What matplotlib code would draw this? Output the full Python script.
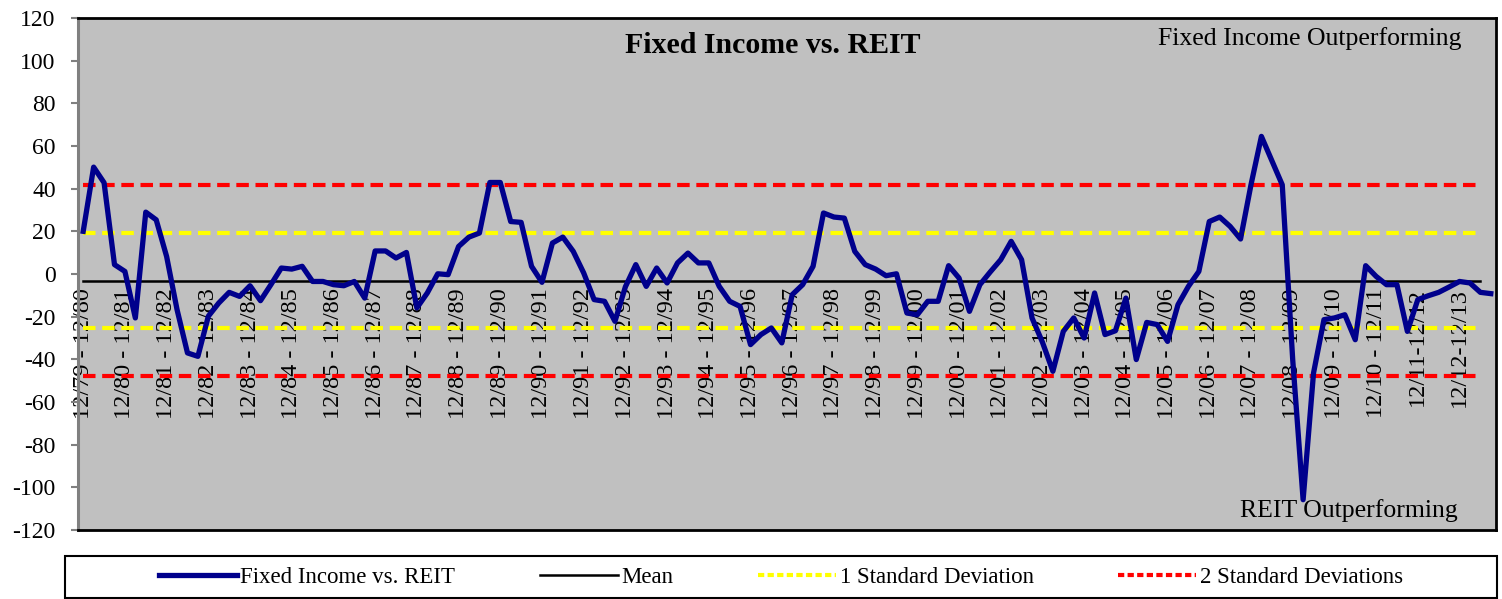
import matplotlib
matplotlib.use("Agg")
import matplotlib.pyplot as plt
from matplotlib.lines import Line2D
from matplotlib.patches import Rectangle

plt.rcParams['font.family'] = ['Liberation Serif', 'DejaVu Serif']
plt.rcParams['axes.unicode_minus'] = False

# rolling one-year difference, quarterly points (12/80 ... 9/14)
fi_vs_reit = [
    20.0, 50.1, 42.8, 4.4, 1.2, -20.6, 29.0, 25.4, 8.2, -16.7,
    -37.0, -38.6, -19.8, -13.6, -8.6, -10.5, -5.5, -12.5, -5.0, 2.8,
    2.3, 3.6, -3.5, -3.5, -5.0, -5.5, -3.5, -11.3, 10.8, 10.8,
    7.5, 10.1, -15.9, -8.9, 0.1, -0.3, 12.9, 17.3, 19.2, 42.9,
    42.9, 24.6, 24.2, 3.6, -3.9, 14.5, 17.3, 10.6, 0.5, -12.0,
    -12.8, -22.2, -6.0, 4.4, -5.8, 2.8, -4.2, 5.2, 9.8, 5.2,
    5.2, -5.8, -12.8, -15.2, -33.1, -28.4, -25.3, -32.3, -9.7, -5.0,
    3.6, 28.6, 26.7, 26.2, 10.6, 4.4, 2.3, -0.8, 0.1, -18.3,
    -19.1, -12.8, -12.8, 3.9, -1.9, -17.5, -5.0, 1.0, 6.7, 15.3,
    6.7, -20.6, -32.0, -45.6, -26.9, -20.6, -30.0, -8.9, -28.4, -26.6,
    -11.3, -40.1, -22.7, -23.7, -31.6, -14.4, -5.8, 1.2, 24.6, 26.7,
    22.3, 16.4, 41.8, 64.5, 53.2, 41.8, -40.0, -105.8, -46.4, -21.4,
    -20.6, -19.1, -30.8, 3.9, -1.1, -5.0, -5.0, -26.9, -12.0, -10.2,
    -8.6, -6.1, -3.5, -4.2, -8.6, -9.2,
]

mean_val = -3.1
sd1_up, sd1_down = 19.2, -25.4
sd2_up, sd2_down = 41.5, -47.7
n_band = 135  # reference lines stop one quarter before the last point

period_labels = [
    "12/79 - 12/80", "12/80 - 12/81", "12/81 - 12/82", "12/82 - 12/83",
    "12/83 - 12/84", "12/84 - 12/85", "12/85 - 12/86", "12/86 - 12/87",
    "12/87 - 12/88", "12/88 - 12/89", "12/89 - 12/90", "12/90 - 12/91",
    "12/91 - 12/92", "12/92 - 12/93", "12/93 - 12/94", "12/94 - 12/95",
    "12/95 - 12/96", "12/96 - 12/97", "12/97 - 12/98", "12/98 - 12/99",
    "12/99 - 12/00", "12/00 - 12/01", "12/01 - 12/02", "12/02 - 12/03",
    "12/03 - 12/04", "12/04 - 12/05", "12/05 - 12/06", "12/06 - 12/07",
    "12/07 - 12/08", "12/08 - 12/09", "12/09 - 12/10", "12/10 - 12/11",
    "12/11-12/12", "12/12-12/13",
]
label_every = 4

x = list(range(len(fi_vs_reit)))
xb = list(range(n_band))

fig = plt.figure(figsize=(15.02, 5.99), dpi=100)
ax = fig.add_axes([78 / 1502, 1 - 530 / 599, 1418 / 1502, 512 / 599])
ax.set_facecolor('#C0C0C0')

navy = '#00008C'
ax.plot(xb, [mean_val] * n_band, color='black', lw=1.8, zorder=3)
for v in (sd1_up, sd1_down):
    ax.plot(xb, [v] * n_band, color='#FFFF00', lw=3, dashes=(3, 1.6), zorder=3)
for v in (sd2_up, sd2_down):
    ax.plot(xb, [v] * n_band, color='#FF0000', lw=3, dashes=(3, 1.6), zorder=3)
ax.plot(x, fi_vs_reit, color=navy, lw=3.8, solid_joinstyle='round', zorder=4)

ax.set_xlim(-0.5, len(fi_vs_reit) - 0.5)
ax.set_ylim(-120, 120)
ax.set_yticks(range(-120, 121, 20))
ax.tick_params(axis='y', length=5, width=1.5, color='#808080', pad=11, labelsize=17)
ax.set_xticks([])
for s in ('top', 'right', 'bottom'):
    ax.spines[s].set_color('black')
    ax.spines[s].set_linewidth(2)
ax.spines['left'].set_color('#808080')
ax.spines['left'].set_linewidth(2.2)

# category labels sit next to the zero line, as in the spreadsheet chart
sec = ax.secondary_xaxis(0.5)
sec.set_alignment('bottom')
sec.set_xticks(x[::label_every], labels=period_labels)
sec.tick_params(axis='x', length=0, pad=10, labelsize=17.5, labelrotation=90)
sec.spines['bottom'].set_visible(False)
sec.spines['top'].set_visible(False)
sec.set_zorder(1)

ax.text(0.49, 0.947, "Fixed Income vs. REIT", transform=ax.transAxes,
        ha='center', va='center', fontsize=21.5, fontweight='bold')
ax.text(0.976, 0.96, "Fixed Income Outperforming", transform=ax.transAxes,
        ha='right', va='center', fontsize=18.5)
ax.text(0.973, 0.039, "REIT Outperforming", transform=ax.transAxes,
        ha='right', va='center', fontsize=18.5)

# legend box under the chart
fig.patches.append(Rectangle((65 / 1502, 0.002), 1432 / 1502, 42 / 599,
                             transform=fig.transFigure, fill=False,
                             edgecolor='black', lw=1.5))
handles = [
    Line2D([], [], color=navy, lw=3.8),
    Line2D([], [], color='black', lw=1.8),
    Line2D([], [], color='#FFFF00', lw=3, dashes=(1.5, 0.8)),
    Line2D([], [], color='#FF0000', lw=3, dashes=(1.5, 0.8)),
]
names = ["Fixed Income vs. REIT", "Mean", "1 Standard Deviation", "2 Standard Deviations"]
fig.legend(handles, names, loc='center', bbox_to_anchor=(781 / 1502, 1 - 577 / 599),
           ncol=4, frameon=False, fontsize=16.5, handlelength=3.4,
           handletextpad=0.15, columnspacing=3.7)

fig.savefig("out.png", dpi=100)
